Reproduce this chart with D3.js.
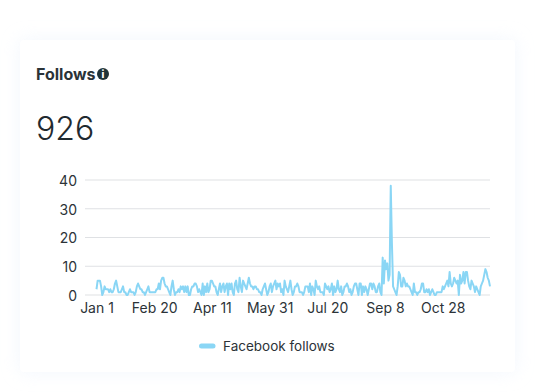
<!DOCTYPE html>
<html>
<head>
<meta charset="utf-8">
<script src="https://cdn.jsdelivr.net/npm/d3@7"></script>
<style>
  html, body { margin: 0; padding: 0; background: #fff; }
  svg { display: block; font-family: Inter, Roboto, sans-serif; }
  .domain { display: none; }
  .tick line { display: none; }
</style>
</head>
<body>
<div id="chart"></div>
<script>
var wd = 554;
var ht = 392;

// values, one per day
var jan = [2,5,5,5,3,0,1,3,2,2,2,1,2,1,1,2,4,5,3,1,1,1,2,3,1,1,0,0,1,2,1,1,1,0,1,3,4,3,2,2,1,1,0,1,2,3,1,1,1,1];
var feb = [1,1,2,2,4,2,5,6,6,4,3,3,2,1,0,3,5,2,0,1,1,2,1,3,2,3,1,3,1,3,0,0,2,3,3,4,4,3,1,2,1,0,4,0,3,1,4,1,2,5];
var apr = [5,4,3,3,1,0,2,4,1,3,4,1,3,4,0,4,2,4,1,0,4,5,2,1,6,3,1,5,4,3,2,4,6,4,3,3,2,3,3,2,2,1,1,0,2,3,4,2,0,1];
var may = [3,4,1,3,4,5,2,4,3,4,1,2,0,5,3,2,1,3,5,2,0,1,3,3,4,3,1,1,1,0,1,3,3,3,1,4,0,3,2,0,5,3,2,3,1,1,1,0,4,3];
var jul = [2,3,1,2,4,0,3,1,2,5,2,1,3,0,1,3,3,4,3,1,2,0,1,3,4,4,2,0,4,4,0,3,1,3,2,0,2,4,4,2,4,3,1,1,3,4,1,0,13,4,12,9,11,5,7];
var sep = [38,18,3,2,1,0,3,8,7,3,3,6,5,3,4,3,3,2,1,0,4,1,1,0,1,1,2,4,4,1,1,2,1,2,0,1,2,1,0,0,1,1,1,1,1,3,2,3,4,5,3,8,4,3,4,6,5,4,5,0,7,4,5,8,4,8,8,5,3,2,5,4,3,1,3,2,1,0,3,4,5,7,9,8,6,5,3];
var follows = [].concat(jan, feb, apr, may, jul, sep);

var tickDays = [0, 50, 100, 150, 200, 250, 300];
var tickLabels = ["Jan 1", "Feb 20", "Apr 11", "May 31", "Jul 20", "Sep 8", "Oct 28"];
var yTicks = [0, 10, 20, 30, 40];
var seriesName = "Facebook follows";
var title = "Follows";
var total = "926";

var svg = d3.select("#chart").append("svg")
  .attr("width", wd)
  .attr("height", ht);

var defs = svg.append("defs");
var blur = defs.append("filter").attr("id", "soft")
  .attr("x", "-10%").attr("y", "-10%").attr("width", "120%").attr("height", "120%");
blur.append("feGaussianBlur").attr("stdDeviation", 9);

// card
svg.append("rect").attr("x", 20).attr("y", 40).attr("width", 495).attr("height", 332)
  .attr("fill", "#e6effb").attr("opacity", 0.5).attr("filter", "url(#soft)");
svg.append("rect").attr("x", 20).attr("y", 40).attr("width", 495).attr("height", 332)
  .attr("rx", 4).attr("fill", "#fff");

svg.append("text").attr("x", 36).attr("y", 80)
  .attr("font-size", 16).attr("font-weight", 700).attr("fill", "#2a3338")
  .text(title);

var info = svg.append("g").attr("transform", "translate(103,74)");
info.append("circle").attr("r", 6).attr("fill", "#1f3338");
info.append("text").attr("text-anchor", "middle").attr("y", 4)
  .attr("font-size", 10).attr("font-weight", 800).attr("fill", "#fff").text("i");

svg.append("text").attr("x", 36).attr("y", 140)
  .attr("font-size", 32).attr("font-weight", 300).attr("fill", "#1f2a30")
  .text(total);

var x = d3.scaleLinear().domain([0, follows.length - 1]).range([96.5, 490]);
var y = d3.scaleLinear().domain([0, 40]).range([295, 180]);

// grid
svg.append("g").selectAll("line").data(yTicks).join("line")
  .attr("x1", 85).attr("x2", 490)
  .attr("y1", function(d) { return y(d); })
  .attr("y2", function(d) { return y(d); })
  .attr("stroke", "#dfe1e4").attr("stroke-width", 1.2);

var yAxis = d3.axisLeft(y).tickValues(yTicks).tickSize(0).tickPadding(0);
svg.append("g").attr("transform", "translate(77,1)").call(yAxis)
  .call(function(g) {
    g.selectAll("text").attr("font-size", 14).attr("fill", "#2c3338").attr("font-family", "Inter, Roboto, sans-serif");
  });

var xAxis = d3.axisBottom(x).tickValues(tickDays)
  .tickFormat(function(d, i) { return tickLabels[i]; })
  .tickSize(0).tickPadding(0);
svg.append("g").attr("transform", "translate(0,303)").call(xAxis)
  .call(function(g) {
    g.selectAll("text").attr("font-size", 14).attr("fill", "#2c3338").attr("font-family", "Inter, Roboto, sans-serif");
  });

var line = d3.line()
  .x(function(d, i) { return x(i); })
  .y(function(d) { return y(d); });

svg.append("path").datum(follows)
  .attr("d", line)
  .attr("fill", "none")
  .attr("stroke", "#8ad6f5")
  .attr("stroke-width", 2)
  .attr("stroke-linejoin", "round");

// legend
svg.append("line").attr("x1", 201.5).attr("x2", 213).attr("y1", 346).attr("y2", 346)
  .attr("stroke", "#8ad6f5").attr("stroke-width", 5).attr("stroke-linecap", "round");
svg.append("text").attr("x", 223).attr("y", 351)
  .attr("font-size", 13.5).attr("fill", "#2c3338")
  .text(seriesName);
</script>
</body>
</html>
